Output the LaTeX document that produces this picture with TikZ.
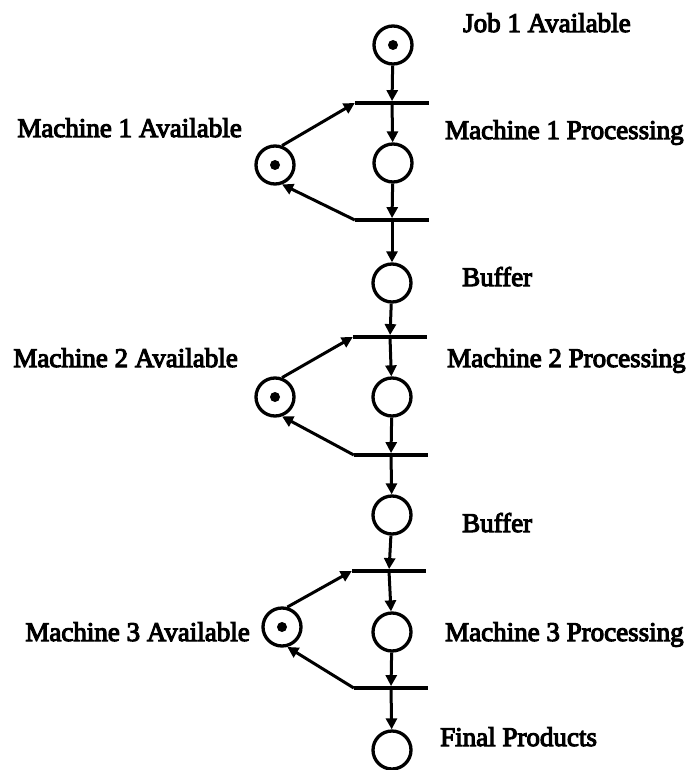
\documentclass[tikz,border=0pt]{standalone}
\usepackage{fontspec}
\setmainfont[FakeBold=4]{Liberation Serif}
\usetikzlibrary{arrows.meta}

\begin{document}
\begin{tikzpicture}[x=1pt,y=-1pt,
  place/.style={circle,draw,line width=3.3pt,minimum size=38pt,inner sep=0pt},
  token/.style={path picture={\fill (path picture bounding box.center) circle (5pt);}},
  trans/.style={rectangle,fill,draw=none,inner sep=0pt,minimum width=74pt,minimum height=3.4pt},
  arc/.style={line width=3pt,-{Triangle[length=11pt,width=11pt]}},
  lbl/.style={font=\fontsize{27}{30}\selectfont,inner sep=0pt}]
\useasboundingbox (0,0) rectangle (690,770);

% places and transitions of the main line
\node[place,token] (job) at (393,45) {};
\node[trans] (t1) at (392,103) {};
\node[place] (m1p) at (393,163) {};
\node[trans] (t2) at (392,220) {};
\node[place] (b1) at (392,283) {};
\node[trans] (t3) at (390,337) {};
\node[place] (m2p) at (392,397) {};
\node[trans] (t4) at (391,455) {};
\node[place] (b2) at (392,515) {};
\node[trans] (t5) at (389,571) {};
\node[place] (m3p) at (392,632) {};
\node[trans] (t6) at (391,688) {};
\node[place] (fin) at (392,750) {};

% machine resource places
\node[place,token] (m1a) at (275,165) {};
\node[place,token] (m2a) at (275,397) {};
\node[place,token] (m3a) at (282,627) {};

% flow arcs
\draw[arc] (job) -- (t1);
\draw[arc] (t1) -- (m1p);
\draw[arc] (m1p) -- (t2);
\draw[arc] (t2) -- (b1);
\draw[arc] (b1) -- (t3);
\draw[arc] (t3) -- (m2p);
\draw[arc] (m2p) -- (t4);
\draw[arc] (t4) -- (b2);
\draw[arc] (b2) -- (t5);
\draw[arc] (t5) -- (m3p);
\draw[arc] (m3p) -- (t6);
\draw[arc] (t6) -- (fin);

% resource loops
\draw[arc] (m1a.70) -- (t1.west);
\draw[arc] (t2.west) -- (m1a.-70);
\draw[arc] (m2a.70) -- (t3.west);
\draw[arc] (t4.west) -- (m2a.-70);
\draw[arc] (m3a.75) -- (t5.west);
\draw[arc] (t6.west) -- (m3a.-75);

% labels
\node[lbl,anchor=base west] (ljob) at (463,32) {Job 1 Available};
\node[lbl,anchor=base east] (lm1a) at (242,137) {Machine 1 Available};
\node[lbl,anchor=base west] (lm1p) at (445,139) {Machine 1 Processing};
\node[lbl,anchor=base west] (lb1) at (462,286) {Buffer};
\node[lbl,anchor=base east] (lm2a) at (238,367) {Machine 2 Available};
\node[lbl,anchor=base west] (lm2p) at (447,367) {Machine 2 Processing};
\node[lbl,anchor=base west] (lb2) at (462,532) {Buffer};
\node[lbl,anchor=base east] (lm3a) at (250,641) {Machine 3 Available};
\node[lbl,anchor=base west] (lm3p) at (445,641) {Machine 3 Processing};
\node[lbl,anchor=base west] (lfin) at (440,746) {Final Products};
\end{tikzpicture}
\end{document}
